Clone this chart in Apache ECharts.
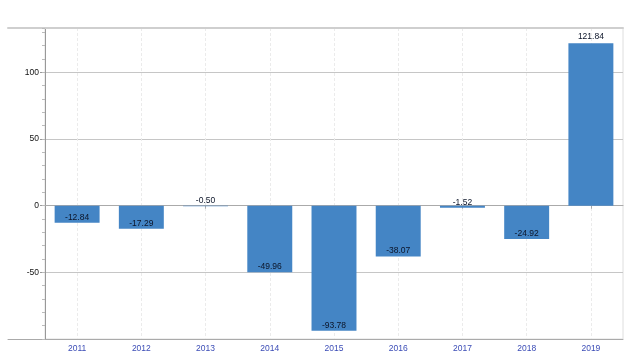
<!DOCTYPE html>
<html>
<head>
<meta charset="utf-8">
<script src="https://cdn.jsdelivr.net/npm/echarts@6/dist/echarts.min.js"></script>
<style>html,body{margin:0;padding:0;background:#fff;}#c{width:640px;height:363px;}</style>
</head>
<body>
<div id="c"></div>
<script>
var categories = ['2011','2012','2013','2014','2015','2016','2017','2018','2019'];
var values = [-12.84, -17.29, -0.50, -49.96, -93.78, -38.07, -1.52, -24.92, 121.84];
var yMin = -100, yMax = 133.3, yInterval = 50, yMinorInterval = 10;

var FONT = "'Liberation Sans', Arial, sans-serif";
var chart = echarts.init(document.getElementById('c'), null, {renderer: 'canvas'});

var barData = values.map(function (v) {
  return {
    value: v,
    label: v < 0 ? {position: 'insideBottom', distance: 1} : {position: 'top', distance: 2}
  };
});

chart.setOption({
  animation: false,
  backgroundColor: '#fff',
  grid: [
    {left: 45, right: 17, top: 28, bottom: 24, show: true, borderColor: '#dedede', borderWidth: 1, backgroundColor: 'transparent'},
    {left: 8, right: 17, top: 28, bottom: 24, show: false}
  ],
  xAxis: [
    {
      type: 'category', gridIndex: 0, data: categories,
      axisLine: {show: true, lineStyle: {color: '#aaa', width: 1}},
      axisTick: {show: true, alignWithLabel: true, length: 3, lineStyle: {color: '#aaa'}},
      axisLabel: {color: '#3b4cb6', fontSize: 8.5, fontFamily: FONT, margin: 5},
      splitLine: {show: true, alignWithLabel: true, lineStyle: {color: '#ebebeb', type: [3, 2]}}
    },
    {
      type: 'value', gridIndex: 1, position: 'bottom', min: 0, max: 1,
      axisLine: {show: true, lineStyle: {color: '#aaa', width: 1}},
      axisTick: {show: false}, axisLabel: {show: false}, splitLine: {show: false}
    },
    {
      type: 'value', gridIndex: 1, position: 'top', min: 0, max: 1,
      axisLine: {show: true, lineStyle: {color: '#cfcfcf', width: 2}},
      axisTick: {show: false}, axisLabel: {show: false}, splitLine: {show: false}
    }
  ],
  yAxis: [
    {
      type: 'value', gridIndex: 0, min: yMin, max: yMax, interval: yInterval, position: 'left', offset: 0,
      axisLine: {show: true, lineStyle: {color: '#999'}},
      axisTick: {show: true, length: 5, lineStyle: {color: '#999'}},
      axisLabel: {color: '#111', fontSize: 8.5, fontFamily: FONT, margin: 6, showMinLabel: false, showMaxLabel: false},
      splitLine: {show: true, lineStyle: {color: '#c6c6c6', width: 1}}
    },
    {
      type: 'value', gridIndex: 0, min: yMin, max: yMax, interval: yMinorInterval, position: 'left', offset: 0,
      axisLine: {show: false},
      axisTick: {show: true, length: 3, lineStyle: {color: '#bbb'}},
      axisLabel: {show: false}, splitLine: {show: false}
    },
    {
      type: 'value', gridIndex: 1, min: 0, max: 1, show: false
    }
  ],
  series: [{
    type: 'bar', xAxisIndex: 0, yAxisIndex: 0,
    data: barData,
    barWidth: '70%',
    itemStyle: {color: '#4485c5'},
    label: {
      show: true, color: '#0b1428', fontSize: 8.5, fontFamily: FONT,
      formatter: function (p) { return p.value.toFixed(2); }
    }
  }]
});
</script>
</body>
</html>
